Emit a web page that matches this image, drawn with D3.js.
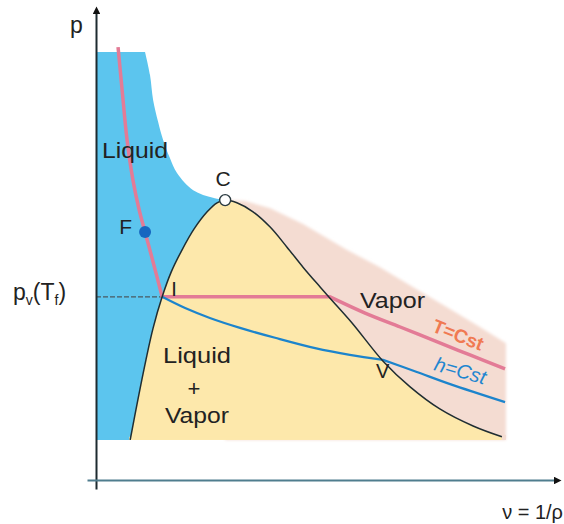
<!DOCTYPE html>
<html>
<head>
  <script src="https://cdn.jsdelivr.net/npm/d3@7"></script>
  <style>
    body { margin: 0; background: #fff; }
    text { font-family: "Liberation Sans", Arial, sans-serif; fill: #222; }
  </style>
</head>
<body>
<svg width="564" height="524"></svg>
<script>
  // specific volume v (arbitrary units) and pressure p (arbitrary units)
  // boundary of the compressed liquid zone (upper-right edge), ending at C
  const liquidEdgeV = [0, 10.9, 12.0, 12.7, 13.8, 14.9, 16.4, 18.0, 21.6, 26.0, 28.7];
  const liquidEdgeP = [95.1, 95.1, 90.0, 84.4, 79.6, 75.6, 71.6, 68.2, 64.4, 62.7, 62.2];

  // saturation dome, left foot -> C -> right foot
  const domeV = [7.6, 9.3, 11.1, 12.7, 14.7, 16.7, 19.1, 21.8, 24.7, 26.9, 28.7,
                 31.3, 34.9, 38.7, 42.4, 46.0, 49.8, 52.0, 56.9, 63.8, 69.8, 76.4, 83.8, 90.2];
  const domeP = [8.9, 17.8, 26.7, 33.8, 40.7, 46.2, 51.1, 55.8, 59.6, 61.6, 62.2,
                 61.6, 59.6, 56.2, 51.8, 47.3, 42.9, 40.4, 34.9, 26.4, 20.7, 15.8, 12.0, 9.6];

  // upper edge of the shaded vapor zone
  const vaporEdgeV = [28.7, 33.1, 38.7, 46.0, 55.8, 63.1, 70.4, 78.0, 85.3, 91.1];
  const vaporEdgeP = [62.2, 62.0, 60.4, 56.9, 51.1, 47.3, 42.9, 38.4, 34.0, 30.4];

  // isotherm T = Tf: liquid branch, then vapor branch (plateau between them)
  const isoLiqV = [4.9, 5.8, 6.9, 8.2, 9.6, 10.9, 12.7, 14.7];
  const isoLiqP = [96.2, 86.7, 75.6, 66.7, 60.0, 55.1, 48.4, 40.7];
  const isoVapV = [52.0, 59.8, 67.6, 75.3, 83.1, 90.9];
  const isoVapP = [40.7, 37.1, 34.0, 30.9, 27.8, 24.7];

  // isenthalp h = Cst: inside the dome, then in the vapor zone
  const isenInV = [14.7, 19.8, 25.3, 32.0, 39.8, 48.7, 56.4, 63.8];
  const isenInP = [40.7, 38.2, 36.0, 33.8, 31.6, 29.3, 27.8, 26.7];
  const isenOutV = [63.8, 71.3, 78.7, 90.9];
  const isenOutP = [26.7, 24.0, 21.3, 17.3];

  // special points
  const pointC = [28.7, 62.2];
  const pointF = [10.9, 55.1];
  const pointI = [14.7, 40.7];
  const pointV = [63.8, 26.7];
  const pBottom = 8.9;    // lower edge of the shaded zones
  const vRight = 91.1;    // right edge of the shaded zones

  const x = d3.scaleLinear().domain([-2, 102]).range([87, 555]);
  const y = d3.scaleLinear().domain([-2, 104]).range([489, 12]);

  const svg = d3.select('svg');
  const zip = (a, b) => a.map((d, i) => [d, b[i]]);
  const line = d3.line().x(d => x(d[0])).y(d => y(d[1])).curve(d3.curveCatmullRom.alpha(0.5));
  const poly = d3.line().x(d => x(d[0])).y(d => y(d[1]));

  const dome = zip(domeV, domeP);
  const iC = domeV.indexOf(pointC[0]);
  const domeLeft = dome.slice(0, iC + 1);

  const defs = svg.append('defs');
  defs.append('filter').attr('id', 'soft')
    .append('feGaussianBlur').attr('stdDeviation', 1.5);
  defs.append('marker').attr('id', 'arrow')
    .attr('viewBox', '0 0 10 10').attr('refX', 2).attr('refY', 5)
    .attr('markerWidth', 9).attr('markerHeight', 7.5).attr('markerUnits', 'userSpaceOnUse')
    .attr('orient', 'auto')
    .append('path').attr('d', 'M0,0L10,5L0,10Z').attr('fill', '#111');

  // vapor zone (pink)
  const vaporPts = zip(vaporEdgeV, vaporEdgeP)
    .concat([[vRight, pBottom], [pointC[0], pBottom]]);
  svg.append('path')
    .attr('d', poly(vaporPts) + 'Z')
    .attr('fill', '#f4dcd2')
    .attr('filter', 'url(#soft)');

  // liquid zone (blue)
  const liqEdge = zip(liquidEdgeV, liquidEdgeP);
  const liqTop = poly(liqEdge.slice(0, 2)) + 'L' + line(liqEdge.slice(1)).slice(1);
  const liqDown = line(domeLeft.slice().reverse());
  svg.append('path')
    .attr('d', liqTop + 'L' + liqDown.slice(1) + `L${x(0)},${y(pBottom)}Z`)
    .attr('fill', '#5cc5ee');

  // two-phase zone (yellow)
  svg.append('path')
    .attr('d', line(dome) + 'Z')
    .attr('fill', '#fde8ab');
  svg.append('rect')
    .attr('x', x(domeV[0]) - 1).attr('y', y(domeP[domeP.length - 1]))
    .attr('width', x(domeV[domeV.length - 1]) - x(domeV[0]) + 1)
    .attr('height', y(pBottom) - y(domeP[domeP.length - 1]))
    .attr('fill', '#fde8ab');
  svg.append('rect')
    .attr('x', x(domeV[domeV.length - 1])).attr('y', y(domeP[domeP.length - 1]) - 2)
    .attr('width', x(vRight) - x(domeV[domeV.length - 1]))
    .attr('height', y(pBottom) - y(domeP[domeP.length - 1]) + 2)
    .attr('fill', '#f4dcd2');

  // dashed level p_v(T_f)
  svg.append('line')
    .attr('x1', x(0)).attr('x2', x(pointI[0]))
    .attr('y1', y(pointI[1])).attr('y2', y(pointI[1]))
    .attr('stroke', '#4a5a60').attr('stroke-width', 1.2)
    .attr('stroke-dasharray', '5,2');

  // isotherm: liquid branch + plateau + vapor branch
  const isoLiq = zip(isoLiqV, isoLiqP);
  const isoVap = zip(isoVapV, isoVapP);
  svg.append('path')
    .attr('d', line(isoLiq) + 'L' + line(isoVap).slice(1))
    .attr('fill', 'none').attr('stroke', '#e37b96').attr('stroke-width', 3.5)
    .attr('stroke-linejoin', 'round');

  // isenthalp
  svg.append('path')
    .attr('d', line(zip(isenInV, isenInP)) + 'L' + line(zip(isenOutV, isenOutP)).slice(1))
    .attr('fill', 'none').attr('stroke', '#1c84cc').attr('stroke-width', 2.2);

  // saturation dome outline
  svg.append('path')
    .attr('d', line(dome))
    .attr('fill', 'none').attr('stroke', '#1f2d32').attr('stroke-width', 1.5);

  // axes
  const yAxis = svg.append('g').attr('transform', `translate(${x(0)},0)`)
    .call(d3.axisLeft(y).tickValues([]).tickSizeOuter(0));
  yAxis.select('.domain').attr('stroke', '#1e2b30').attr('stroke-width', 2)
    .attr('marker-end', 'url(#arrow)');
  const xAxis = svg.append('g').attr('transform', `translate(0,${y(0)})`)
    .call(d3.axisBottom(x).tickValues([]).tickSizeOuter(0));
  xAxis.select('.domain').attr('stroke', '#4f7d8e').attr('stroke-width', 2)
    .attr('marker-end', 'url(#arrow)');

  // points
  svg.append('circle')
    .attr('cx', x(pointF[0])).attr('cy', y(pointF[1])).attr('r', 6)
    .attr('fill', '#1667c0');
  svg.append('circle')
    .attr('cx', x(pointC[0])).attr('cy', y(pointC[1])).attr('r', 5.5)
    .attr('fill', '#fff').attr('stroke', '#2a3a40').attr('stroke-width', 1.4);

  // labels
  const label = (t, px, py, size, opts = {}) => {
    const el = svg.append('text').attr('x', px).attr('y', py)
      .style('font-size', size + 'px')
      .attr('text-anchor', opts.anchor || 'start')
      .text(t);
    if (opts.len) el.attr('textLength', opts.len).attr('lengthAdjust', 'spacingAndGlyphs');
    if (opts.fill) el.style('fill', opts.fill);
    if (opts.rotate) el.attr('transform', `rotate(${opts.rotate},${px},${py})`);
    if (opts.italic) el.style('font-style', 'italic');
    if (opts.weight) el.style('font-weight', opts.weight);
    return el;
  };

  label('p', 70, 33, 23);
  label('Liquid', 102, 158, 22, { len: 66 });
  label('C', x(pointC[0]) - 2, y(pointC[1]) - 14, 21, { anchor: 'middle' });
  label('F', x(pointF[0]) - 13, y(pointF[1]) + 2, 21, { anchor: 'end' });
  label('I', x(pointI[0]) + 9, y(pointI[1]) - 1, 20);
  label('V', x(pointV[0]) - 7, y(pointV[1]) + 18, 20);
  label('Liquid', 197, 363, 22, { anchor: 'middle', len: 68 });
  label('+', 194, 396, 22, { anchor: 'middle' });
  label('Vapor', 197, 423, 22, { anchor: 'middle', len: 64 });
  label('Vapor', 360, 308, 22, { len: 65 });
  label('T=Cst', 431, 331, 19, { fill: '#f07a52', rotate: 22, weight: 'bold' });
  label('h=Cst', 433, 370, 20, { fill: '#1f86d0', rotate: 16, italic: true });
  label('ν = 1/ρ', 563, 519, 20, { anchor: 'end' });

  const pv = svg.append('text').attr('x', 13).attr('y', 300).style('font-size', '23px');
  pv.append('tspan').text('p');
  pv.append('tspan').attr('dy', 5).style('font-size', '14px').text('v');
  pv.append('tspan').attr('dy', -5).text('(T');
  pv.append('tspan').attr('dy', 5).style('font-size', '14px').text('f');
  pv.append('tspan').attr('dy', -5).text(')');
</script>
</body>
</html>
